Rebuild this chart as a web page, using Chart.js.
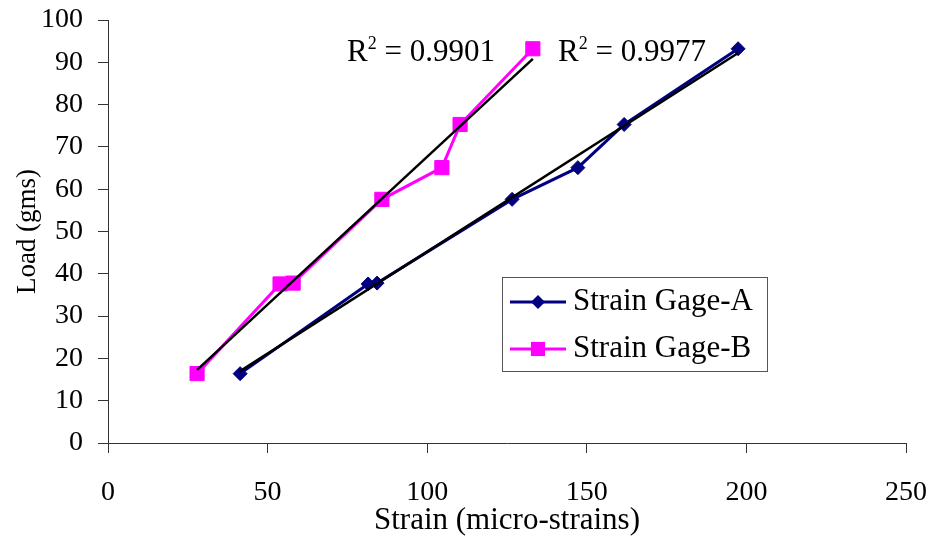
<!DOCTYPE html>
<html>
<head>
<meta charset="utf-8">
<script src="https://cdn.jsdelivr.net/npm/chart.js@4.4.0/dist/chart.umd.min.js"></script>
<style>
  html, body { margin: 0; padding: 0; background: #fff; }
</style>
</head>
<body>
<canvas id="chart" width="935" height="541"></canvas>
<script>
const loads = [16.4, 37.6, 37.8, 57.6, 65.1, 75.3, 93.2];
const strainA = [41.4, 81.5, 84.3, 126.6, 147.2, 161.7, 197.4];
const strainB = [27.9, 53.9, 58.0, 85.8, 104.6, 110.3, 133.1];
// trendline end points
const trendA = [[41.4, 17.0], [197.4, 92.2]];
const trendB = [[27.9, 17.3], [133.1, 90.8]];
const r2Labels = [
  { x: 74.9, y: 90.3, text: '0.9901' },
  { x: 141.0, y: 90.3, text: '0.9977' }
];

const FONT = "'Liberation Serif', 'Times New Roman', serif";
Chart.defaults.font.family = FONT;
Chart.defaults.color = '#000';

const toPoints = (xs) => xs.map((x, i) => ({ x: x, y: loads[i] }));
const toLine = (pairs) => pairs.map(p => ({ x: p[0], y: p[1] }));

// little legend box inside the plot, like the excel one
const boxLegend = {
  id: 'boxLegend',
  afterDraw(chart) {
    const ctx = chart.ctx;
    ctx.save();
    ctx.strokeStyle = '#555';
    ctx.lineWidth = 1;
    ctx.strokeRect(502.5, 277.5, 265, 94);
    const rows = [302, 349];
    [0, 1].forEach((di, k) => {
      const ds = chart.data.datasets[di];
      const y = rows[k];
      ctx.strokeStyle = ds.borderColor;
      ctx.lineWidth = ds.borderWidth;
      ctx.beginPath();
      ctx.moveTo(510, y);
      ctx.lineTo(566, y);
      ctx.stroke();
      ctx.fillStyle = ds.backgroundColor;
      const r = ds.pointRadius;
      ctx.beginPath();
      if (ds.pointStyle === 'rectRot') {
        ctx.moveTo(538, y - r); ctx.lineTo(538 + r, y);
        ctx.lineTo(538, y + r); ctx.lineTo(538 - r, y);
      } else {
        const s = r * Math.SQRT1_2;
        ctx.rect(538 - s, y - s, 2 * s, 2 * s);
      }
      ctx.closePath();
      ctx.fill();
      ctx.fillStyle = '#000';
      ctx.font = '31px ' + FONT;
      ctx.textBaseline = 'middle';
      ctx.textAlign = 'left';
      ctx.fillText(ds.label, 573, y);
    });
    ctx.restore();
  }
};

// R^2 texts with a raised 2
const r2Text = {
  id: 'r2Text',
  afterDraw(chart) {
    const ctx = chart.ctx;
    const xs = chart.scales.x, ys = chart.scales.y;
    ctx.save();
    ctx.fillStyle = '#000';
    ctx.textBaseline = 'alphabetic';
    ctx.textAlign = 'left';
    r2Labels.forEach(l => {
      let px = xs.getPixelForValue(l.x);
      const py = ys.getPixelForValue(l.y);
      ctx.font = '31px ' + FONT;
      ctx.fillText('R', px, py);
      px += ctx.measureText('R').width;
      ctx.font = '18px ' + FONT;
      ctx.fillText('2', px, py - 12);
      px += ctx.measureText('2').width;
      ctx.font = '31px ' + FONT;
      ctx.fillText(' = ' + l.text, px, py);
    });
    ctx.restore();
  }
};

new Chart(document.getElementById('chart'), {
  type: 'scatter',
  data: {
    datasets: [
      {
        label: 'Strain Gage-A',
        data: toPoints(strainA),
        showLine: true,
        borderColor: '#000080',
        backgroundColor: '#000080',
        borderWidth: 3,
        pointStyle: 'rectRot',
        pointRadius: 7,
        pointBorderWidth: 1,
        order: 1
      },
      {
        label: 'Strain Gage-B',
        data: toPoints(strainB),
        showLine: true,
        borderColor: '#FF00FF',
        backgroundColor: '#FF00FF',
        borderWidth: 3,
        pointStyle: 'rect',
        pointRadius: 10,
        pointBorderWidth: 1,
        order: 1
      },
      {
        label: 'trend A',
        data: toLine(trendA),
        showLine: true,
        borderColor: '#000',
        borderWidth: 2.5,
        pointRadius: 0,
        order: 0
      },
      {
        label: 'trend B',
        data: toLine(trendB),
        showLine: true,
        borderColor: '#000',
        borderWidth: 2.5,
        pointRadius: 0,
        order: 0
      }
    ]
  },
  options: {
    responsive: false,
    animation: false,
    layout: { padding: { top: 20, right: 29, left: 0, bottom: 0 } },
    plugins: {
      legend: { display: false },
      tooltip: { enabled: false }
    },
    scales: {
      x: {
        type: 'linear',
        min: 0,
        max: 250,
        ticks: { stepSize: 50, font: { size: 28 }, padding: 23, color: '#000' },
        grid: { drawOnChartArea: false, tickLength: 10, color: '#333' },
        border: { color: '#333' },
        title: { display: true, text: 'Strain (micro-strains)', font: { size: 31 }, padding: { top: 0, bottom: 2 } },
        afterFit(scale) {
          scale.height = 98;
          scale.paddingLeft = 0;
          scale.paddingRight = 0;
        }
      },
      y: {
        min: 0,
        max: 100,
        ticks: { stepSize: 10, font: { size: 28 }, padding: 15, color: '#000' },
        grid: { drawOnChartArea: false, tickLength: 10, color: '#333' },
        border: { color: '#333' },
        title: { display: true, text: 'Load (gms)', font: { size: 27 }, padding: { top: 12, bottom: 0 } },
        afterFit(scale) {
          scale.width = 108;
          scale.paddingTop = 0;
          scale.paddingBottom = 0;
        }
      }
    }
  },
  plugins: [boxLegend, r2Text]
});
</script>
</body>
</html>
